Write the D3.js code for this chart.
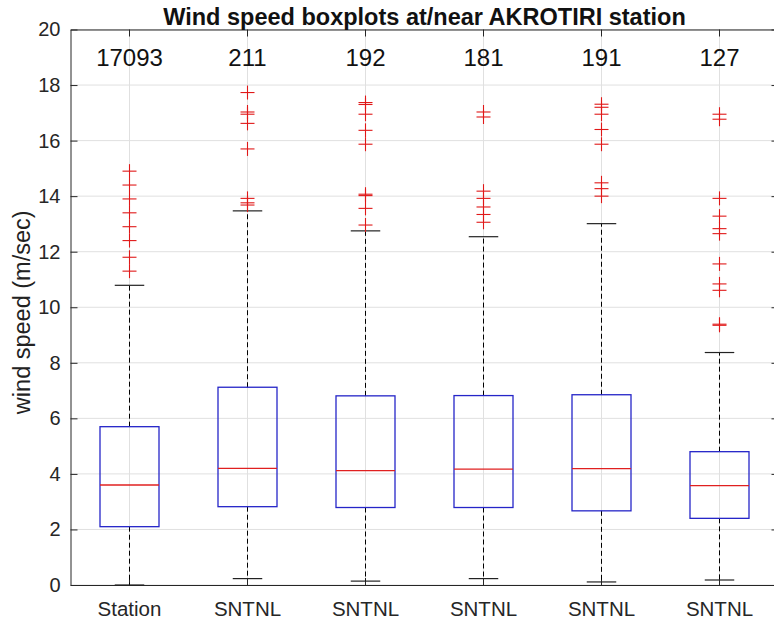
<!DOCTYPE html>
<html>
<head>
<meta charset="utf-8">
<script src="https://cdn.jsdelivr.net/npm/d3@7"></script>
<style>
  html, body { margin: 0; padding: 0; background: #fff; }
  svg { display: block; font-family: "Liberation Sans", Arial, Helvetica, sans-serif; }
</style>
</head>
<body>
<svg id="chart" width="774" height="620"></svg>
<script>
// ---- data ----
const categories = ["Station", "SNTNL", "SNTNL", "SNTNL", "SNTNL", "SNTNL"];
const counts = [17093, 211, 192, 181, 191, 127];
const q1 = [2.10, 2.82, 2.79, 2.79, 2.67, 2.40];
const medians = [3.60, 4.20, 4.12, 4.17, 4.19, 3.58];
const q3 = [5.70, 7.12, 6.81, 6.82, 6.85, 4.80];
const whiskerLow = [0.00, 0.23, 0.14, 0.23, 0.11, 0.18];
const whiskerHigh = [10.79, 13.47, 12.75, 12.54, 13.01, 8.37];
const outliersStation = [14.9, 14.4, 13.9, 13.4, 12.9, 12.4, 11.8, 11.3];
const outliersS1 = [17.73, 17.03, 16.95, 16.62, 15.70, 13.92, 13.76, 13.68];
const outliersS2 = [17.37, 17.30, 16.95, 16.37, 15.87, 14.07, 14.02, 13.56, 12.96];
const outliersS3 = [17.03, 16.85, 14.18, 13.92, 13.61, 13.34, 13.06];
const outliersS4 = [17.31, 17.20, 16.95, 16.40, 15.87, 14.48, 14.27, 14.00];
const outliersS5 = [16.95, 16.77, 13.92, 13.28, 12.83, 12.65, 11.56, 10.84, 10.61, 9.39, 9.35];
const outliers = [outliersStation, outliersS1, outliersS2, outliersS3, outliersS4, outliersS5];
const yTicks = [0, 2, 4, 6, 8, 10, 12, 14, 16, 18, 20];
const countLabelLevel = 19;
const titleText = "Wind speed boxplots at/near AKROTIRI station";
const yLabelText = "wind speed (m/sec)";

(function () {
// ---- layout ----
const pLeft = 70.5, pRight = 778.5, pTop = 29.5, pBottom = 585;
const svg = d3.select("#chart");
const idx = d3.range(categories.length);
const x = d3.scaleBand().domain(idx).range([pLeft, pRight]).paddingInner(0).paddingOuter(0);
const y = d3.scaleLinear().domain([0, 20]).range([pBottom, pTop]);
const step = x.bandwidth();
const cx = i => x(i) + step / 2;
const boxW = step * 0.5;
const capW = step * 0.25;
const tickLen = 7;
const axisColor = "#262626";

// grid
svg.append("g").selectAll("line").data(yTicks).join("line")
  .attr("x1", pLeft).attr("x2", pRight)
  .attr("y1", d => y(d)).attr("y2", d => y(d))
  .attr("stroke", "#e0e0e0").attr("stroke-width", 1);
svg.append("g").selectAll("line").data(idx).join("line")
  .attr("x1", d => cx(d)).attr("x2", d => cx(d))
  .attr("y1", pTop).attr("y2", pBottom)
  .attr("stroke", "#e0e0e0").attr("stroke-width", 1);

// axes (box)
const yAxisL = d3.axisLeft(y).tickValues(yTicks).tickSizeInner(-tickLen).tickSizeOuter(0).tickPadding(10);
const gl = svg.append("g").attr("transform", `translate(${pLeft},0)`).call(yAxisL);
gl.selectAll("text").attr("font-size", 20).attr("fill", axisColor).attr("font-family", "Liberation Sans, Arial, sans-serif");
gl.selectAll("line").attr("stroke", axisColor);
gl.select(".domain").attr("stroke", axisColor);

const yAxisR = d3.axisRight(y).tickValues(yTicks).tickSizeInner(-tickLen).tickSizeOuter(0).tickFormat("");
const gr = svg.append("g").attr("transform", `translate(${pRight},0)`).call(yAxisR);
gr.selectAll("line").attr("stroke", axisColor);
gr.select(".domain").attr("stroke", axisColor);

const xAxisB = d3.axisBottom(x).tickSizeInner(-tickLen).tickSizeOuter(0).tickPadding(16)
  .tickFormat(i => categories[i]);
const gb = svg.append("g").attr("transform", `translate(0,${pBottom})`).call(xAxisB);
gb.selectAll("text").attr("font-size", 20.5).attr("fill", axisColor).attr("font-family", "Liberation Sans, Arial, sans-serif");
gb.selectAll("line").attr("stroke", axisColor);
gb.select(".domain").attr("stroke", axisColor);

const xAxisT = d3.axisTop(x).tickSizeInner(-tickLen).tickSizeOuter(0).tickFormat("");
const gt = svg.append("g").attr("transform", `translate(0,${pTop})`).call(xAxisT);
gt.selectAll("line").attr("stroke", axisColor);
gt.select(".domain").attr("stroke", axisColor);

// boxplots
const g = svg.append("g");
idx.forEach(i => {
  const c = cx(i);
  g.append("line").attr("x1", c).attr("x2", c).attr("y1", y(q3[i])).attr("y2", y(whiskerHigh[i]))
    .attr("stroke", "#000").attr("stroke-width", 1).attr("stroke-dasharray", "5,3");
  g.append("line").attr("x1", c).attr("x2", c).attr("y1", y(q1[i])).attr("y2", y(whiskerLow[i]))
    .attr("stroke", "#000").attr("stroke-width", 1).attr("stroke-dasharray", "5,3");
  [whiskerHigh[i], whiskerLow[i]].forEach(v => {
    g.append("line").attr("x1", c - capW / 2).attr("x2", c + capW / 2).attr("y1", y(v)).attr("y2", y(v))
      .attr("stroke", "#222").attr("stroke-width", 1.2);
  });
  g.append("rect").attr("x", c - boxW / 2).attr("width", boxW)
    .attr("y", y(q3[i])).attr("height", y(q1[i]) - y(q3[i]))
    .attr("fill", "none").attr("stroke", "#2525c8").attr("stroke-width", 1.3);
  g.append("line").attr("x1", c - boxW / 2).attr("x2", c + boxW / 2)
    .attr("y1", y(medians[i])).attr("y2", y(medians[i]))
    .attr("stroke", "#e02020").attr("stroke-width", 1.3);
  outliers[i].forEach(v => {
    const py = y(v);
    g.append("line").attr("x1", c - 7).attr("x2", c + 7).attr("y1", py).attr("y2", py)
      .attr("stroke", "#e01818").attr("stroke-width", 1.1);
    g.append("line").attr("x1", c).attr("x2", c).attr("y1", py - 7).attr("y2", py + 7)
      .attr("stroke", "#e01818").attr("stroke-width", 1.1);
  });
  g.append("text").attr("x", c).attr("y", y(countLabelLevel)).attr("dy", "0.36em")
    .attr("text-anchor", "middle").attr("font-size", 24).attr("fill", "#111")
    .text(counts[i]);
});

// title
svg.append("text").attr("x", (pLeft + pRight) / 2).attr("y", 25)
  .attr("text-anchor", "middle").attr("font-size", 23.5).attr("font-weight", "bold").attr("fill", "#111")
  .text(titleText);

// y label
svg.append("text").attr("transform", `translate(30,${(pTop + pBottom) / 2 + 5}) rotate(-90)`)
  .attr("text-anchor", "middle").attr("font-size", 23.5).attr("fill", "#222")
  .text(yLabelText);
})();
</script>
</body>
</html>
